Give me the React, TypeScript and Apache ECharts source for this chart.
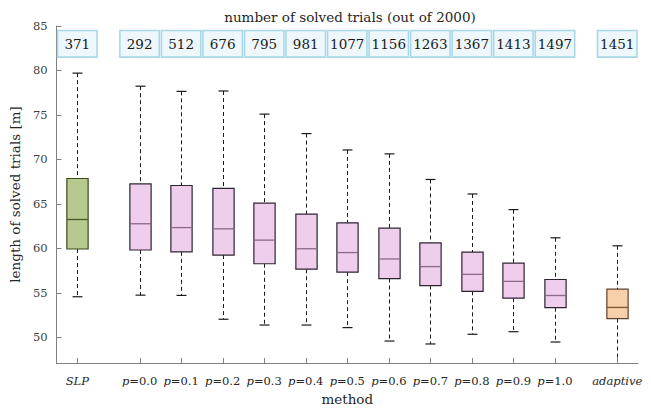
import React, { useEffect, useRef } from "react";
import * as echarts from "echarts";

const categories = ["SLP", "p=0.0", "p=0.1", "p=0.2", "p=0.3", "p=0.4", "p=0.5", "p=0.6", "p=0.7", "p=0.8", "p=0.9", "p=1.0", "adaptive"];
const lowerWhisker = [54.55, 54.73, 54.7, 52.02, 51.37, 51.37, 51.08, 49.57, 49.24, 50.33, 50.62, 49.46, 45.5];
const q1 = [59.92, 59.81, 59.6, 59.24, 58.26, 57.65, 57.32, 56.6, 55.81, 55.16, 54.4, 53.32, 52.1];
const median = [63.24, 62.76, 62.33, 62.19, 60.92, 59.95, 59.52, 58.8, 57.94, 57.07, 56.28, 54.69, 53.35];
const q3 = [67.85, 67.24, 67.06, 66.73, 65.08, 63.84, 62.87, 62.26, 60.6, 59.56, 58.33, 56.49, 55.41];
const upperWhisker = [79.7, 78.23, 77.65, 77.69, 75.09, 72.9, 71.06, 70.62, 67.74, 66.11, 64.35, 61.18, 60.28];
const solvedCounts = [371, 292, 512, 676, 795, 981, 1077, 1156, 1263, 1367, 1413, 1497, 1451];

const Y_MIN = 47.1;
const Y_MAX = 85;
const FONT = "DejaVu Serif";

function positionOf(i: number): number {
  if (i === 0) return 0;
  if (i === categories.length - 1) return (categories.length - 2) + 2;
  return i + 0.5;
}

function styleOf(name: string) {
  if (name === "SLP") return { fill: "#b7c98f", stroke: "#3b4a1f", med: "#4b5a2b" };
  if (name === "adaptive") return { fill: "#f9cfaa", stroke: "#5e4030", med: "#7e5535" };
  return { fill: "#efcdec", stroke: "#2e2430", med: "#8a6a88" };
}

function labelOf(name: string): string {
  if (name.startsWith("p=")) return "{i|p}{n|=" + name.slice(2) + "}";
  return "{i|" + name + "}";
}

export default function App() {
  const ref = useRef<HTMLDivElement>(null);
  useEffect(() => {
    if (!ref.current) return;
    const chart = echarts.init(ref.current, null, { renderer: "svg" });
    const boxData = categories.map((c, i) => [positionOf(i), lowerWhisker[i], q1[i], median[i], q3[i], upperWhisker[i], i]);
    const countData = categories.map((c, i) => [positionOf(i), solvedCounts[i]]);

    chart.setOption({
      animation: false,
      title: {
        text: "number of solved trials (out of 2000)",
        left: 345,
        top: 5,
        textAlign: "center",
        textStyle: { fontFamily: FONT, fontSize: 13.5, fontWeight: "normal", color: "#262626" },
      },
      grid: { left: 51, right: 13, top: 26, bottom: 36 },
      xAxis: {
        type: "value",
        min: -0.5,
        max: 13.5,
        interval: 0.5,
        name: "method",
        nameLocation: "middle",
        nameGap: 29,
        nameTextStyle: { fontFamily: FONT, fontSize: 13.5, color: "#262626" },
        axisLine: { onZero: false, lineStyle: { color: "#808080", width: 1 } },
        axisTick: { show: false },
        splitLine: { show: false },
        axisLabel: {
          margin: 12,
          formatter: (v: number) => {
            const idx = categories.findIndex((c, i) => Math.abs(positionOf(i) - v) < 1e-6);
            return idx >= 0 ? labelOf(categories[idx]) : "";
          },
          rich: {
            i: { fontFamily: FONT, fontSize: 11.5, fontStyle: "italic", color: "#262626" },
            n: { fontFamily: FONT, fontSize: 11.5, color: "#262626" },
          },
        },
      },
      yAxis: {
        type: "value",
        min: Y_MIN,
        max: Y_MAX,
        minInterval: 5,
        maxInterval: 5,
        name: "length of solved trials [m]",
        nameLocation: "middle",
        nameRotate: 90,
        nameGap: 19,
        nameTextStyle: { fontFamily: FONT, fontSize: 13.5, color: "#262626" },
        axisLine: { show: true, onZero: false, lineStyle: { color: "#808080", width: 1 } },
        axisTick: { show: true, inside: true, length: 5, lineStyle: { color: "#808080" } },
        splitLine: { show: false },
        axisLabel: {
          fontFamily: FONT,
          fontSize: 11.5,
          color: "#404040",
          margin: 9,
          formatter: (v: number) => (Math.abs(v % 5) < 1e-6 ? String(v) : ""),
        },
      },
      series: [
        {
          type: "custom",
          data: boxData,
          renderItem: (params: any, api: any) => {
            const x = api.value(0);
            const low = Math.max(api.value(1), Y_MIN);
            const lowClamped = api.value(1) < Y_MIN;
            const b1 = api.value(2);
            const med = api.value(3);
            const b3 = api.value(4);
            const high = api.value(5);
            const idx = api.value(6);
            const st = styleOf(categories[idx]);
            const c = (v: number) => api.coord([x, v]);
            const px = Math.round(c(med)[0]) + 0.5;
            const halfW = api.coord([x + 0.256, med])[0] - c(med)[0];
            const capW = api.coord([x + 0.12, med])[0] - c(med)[0];
            const pHigh = c(high)[1];
            const pQ3 = c(b3)[1];
            const pMed = c(med)[1];
            const pQ1 = c(b1)[1];
            const pLow = c(low)[1];
            const pAxis = c(Y_MIN)[1];
            const dash = { stroke: "#1a1a1a", lineWidth: 1, lineDash: [4, 3], fill: null };
            const children: any[] = [
              { type: "line", shape: { x1: px, y1: pHigh, x2: px, y2: pQ3 }, style: dash },
              { type: "line", shape: { x1: px, y1: pQ1, x2: px, y2: pLow }, style: dash },
              { type: "line", shape: { x1: px - capW, y1: pHigh, x2: px + capW, y2: pHigh }, style: { stroke: "#1a1a1a", lineWidth: 1.2 } },
              {
                type: "rect",
                shape: { x: px - halfW, y: pQ3, width: 2 * halfW, height: pQ1 - pQ3 },
                style: { fill: st.fill, stroke: st.stroke, lineWidth: 1.2 },
              },
              { type: "line", shape: { x1: px - halfW, y1: pMed, x2: px + halfW, y2: pMed }, style: { stroke: st.med, lineWidth: 1.3 } },
              { type: "line", shape: { x1: px, y1: pAxis, x2: px, y2: pAxis - 5 }, style: { stroke: "#808080", lineWidth: 1 } },
            ];
            if (!lowClamped) {
              children.push({ type: "line", shape: { x1: px - capW, y1: pLow, x2: px + capW, y2: pLow }, style: { stroke: "#1a1a1a", lineWidth: 1.2 } });
            }
            return { type: "group", children };
          },
        },
        {
          type: "custom",
          data: countData,
          renderItem: (params: any, api: any) => {
            const x = api.value(0);
            const n = api.value(1);
            const tl = api.coord([x - 0.475, 84.5]);
            const br = api.coord([x + 0.475, 81.5]);
            return {
              type: "group",
              children: [
                {
                  type: "rect",
                  shape: { x: tl[0], y: tl[1], width: br[0] - tl[0], height: br[1] - tl[1] },
                  style: { fill: "#eef7fc", stroke: "#a8d8e8", lineWidth: 1.6 },
                },
                {
                  type: "text",
                  style: {
                    x: (tl[0] + br[0]) / 2,
                    y: (tl[1] + br[1]) / 2 + 0.5,
                    text: String(n),
                    align: "center",
                    verticalAlign: "middle",
                    fontFamily: FONT,
                    fontSize: 13.5,
                    fill: "#1a1a1a",
                  },
                },
              ],
            };
          },
        },
      ],
    });
    return () => chart.dispose();
  }, []);
  return <div ref={ref} style={{ position: "absolute", left: 0, top: 0, width: 651, height: 411 }} />;
}
